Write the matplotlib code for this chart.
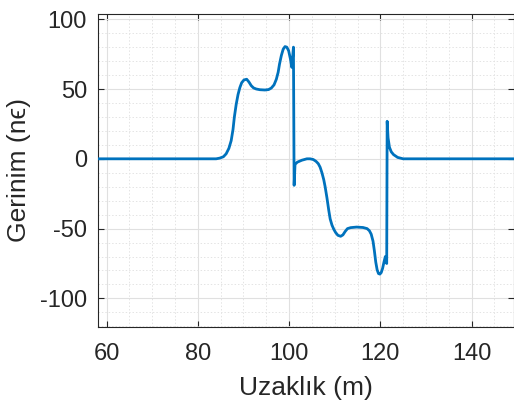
import matplotlib
matplotlib.use("Agg")
import matplotlib.pyplot as plt
from matplotlib.ticker import MultipleLocator

plt.rcParams["axes.unicode_minus"] = False

# Data
distance_m = [58, 84.0, 84.8, 85.6, 86.2, 86.8, 87.3, 87.7, 88.0, 88.4, 88.8, 89.2, 89.6,
              90.1, 90.7, 91.2, 91.7, 92.2, 92.8, 93.6, 94.7, 95.5, 96.1, 96.7,
              97.2, 97.6, 97.9, 98.3, 98.7, 99.1, 99.5, 99.9, 100.3, 100.6, 100.95,
              101.1, 101.3, 101.8, 102.8, 103.9, 104.6, 105.3, 105.9, 106.4, 106.8,
              107.2, 107.6, 107.9, 108.3, 108.7, 109.0, 109.4, 109.8, 110.2, 110.7,
              111.3, 111.8, 112.3, 112.8, 113.5, 114.8, 116.2, 117.1, 117.6,
              118.0, 118.4, 118.7, 119.0, 119.3, 119.6, 119.9, 120.2, 120.5, 120.8,
              121.1, 121.4, 121.5, 121.7, 122.0, 122.4, 122.9, 123.8, 125.0, 150]
strain_ne = [0, 0, 0.5, 1.5, 3.6, 7.5, 13, 21, 30, 39, 46, 51, 54.5,
             56.5, 57, 55, 52.4, 50.8, 50, 49.5, 49.3, 49.6, 50.7, 53,
             57, 62, 67.9, 74, 78.5, 80.4, 80, 77.4, 71.4, 65.5, 80,
             -19, -4, -2.4, -1, 0, 0, -0.5, -1.8, -3.5, -6,
             -10, -15, -20, -28, -37, -43, -47.5, -50.5, -52.8, -54.8,
             -55.5, -54.5, -52, -50, -49.3, -48.9, -49.2, -50, -51.5,
             -54, -59, -66, -74, -79.5, -82.2, -82.6, -81.5, -78.5, -74,
             -70, -75, 26.9, 15, 8.3, 5, 3, 1, 0, 0]

x_ticks = [60, 80, 100, 120, 140]
y_ticks = [-100, -50, 0, 50, 100]

fig = plt.figure(figsize=(5.14, 4.03), dpi=100)
ax = fig.add_axes([98/514, (403-327.3)/403, (513.5-98)/514, (327.3-13.5)/403])

ax.plot(distance_m, strain_ne, color="#0072BD", linewidth=2.0, zorder=3,
        solid_joinstyle="round")

ax.set_xlim(58.1, 149.2)
ax.set_ylim(-120.7, 104.1)
ax.set_xticks(x_ticks)
ax.set_yticks(y_ticks)
ax.xaxis.set_minor_locator(MultipleLocator(5))
ax.yaxis.set_minor_locator(MultipleLocator(10))

ax.grid(which="major", color="#e0e0e0", linewidth=0.8, linestyle="-")
ax.grid(which="minor", color="#e4e4e4", linewidth=0.7, linestyle=(0, (1.5, 2)))
ax.set_axisbelow(True)

txt = "#262626"
fam = ["Liberation Sans", "DejaVu Sans"]
for s in ax.spines.values():
    s.set_color(txt)
    s.set_linewidth(0.8)
ax.tick_params(which="major", direction="in", length=4, width=0.8, color=txt,
               top=True, right=True, labelsize=17, labelcolor=txt, pad=8)
ax.tick_params(axis="x", which="major", pad=11)
ax.tick_params(which="minor", length=0, top=True, right=True)
for lab in ax.get_xticklabels() + ax.get_yticklabels():
    lab.set_family(fam)

ax.set_xlabel("Uzaklık (m)", fontsize=19, color=txt, family=fam, labelpad=8)
ax.set_ylabel("Gerinim (nϵ)", fontsize=19, color=txt, family=fam, labelpad=6)

fig.savefig("out.png", dpi=100)
